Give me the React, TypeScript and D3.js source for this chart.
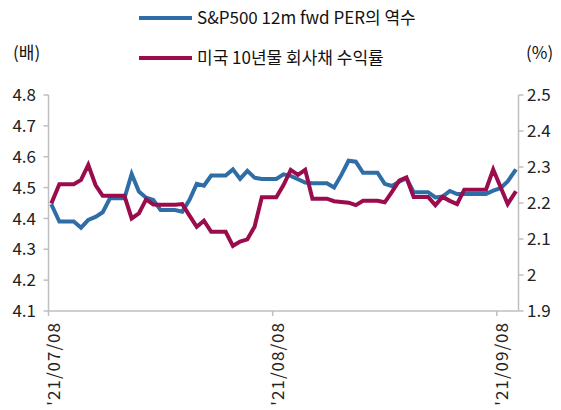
import React from 'react'
import * as d3 from 'd3'

const W = 561
const H = 410

// daily series, weekends carry Friday's value
const START = new Date(2021, 6, 8)
const END = new Date(2021, 8, 11)
const days = d3.timeDay.range(START, END)

const perInverse = [
  4.44, 4.39, 4.39, 4.39, 4.37, 4.395, 4.405, 4.42, 4.465, 4.465, 4.465,
  4.544, 4.487, 4.467, 4.46, 4.427, 4.427, 4.427, 4.422, 4.46, 4.512, 4.506,
  4.539, 4.539, 4.539, 4.559, 4.528, 4.554, 4.532, 4.528, 4.528, 4.528,
  4.543, 4.538, 4.527, 4.516, 4.514, 4.514, 4.514, 4.5, 4.541, 4.587, 4.584,
  4.548, 4.548, 4.548, 4.512, 4.505, 4.519, 4.53, 4.485, 4.485, 4.485,
  4.468, 4.471, 4.489, 4.479, 4.479, 4.479, 4.479, 4.479, 4.49, 4.498, 4.52, 4.554,
]

const corpYield = [
  2.204, 2.252, 2.252, 2.252, 2.264, 2.306, 2.25, 2.22, 2.22, 2.22, 2.22,
  2.157, 2.171, 2.21, 2.196, 2.195, 2.195, 2.195, 2.197, 2.165, 2.134, 2.151,
  2.12, 2.12, 2.12, 2.081, 2.093, 2.099, 2.134, 2.216, 2.216, 2.216,
  2.25, 2.292, 2.278, 2.292, 2.212, 2.212, 2.212, 2.205, 2.203, 2.201, 2.194,
  2.206, 2.206, 2.206, 2.202, 2.231, 2.262, 2.271, 2.217, 2.217, 2.217,
  2.194, 2.217, 2.206, 2.197, 2.237, 2.237, 2.237, 2.237, 2.293, 2.245, 2.197, 2.228,
]

const leftTicks = [4.1, 4.2, 4.3, 4.4, 4.5, 4.6, 4.7, 4.8]
const rightTicks = [1.9, 2, 2.1, 2.2, 2.3, 2.4, 2.5]
const xTicks = [new Date(2021, 6, 8), new Date(2021, 7, 8), new Date(2021, 8, 8)]
const xTickLabels = ["'21/07/08", "'21/08/08", "'21/09/08"]
const legendLabels = ['S&P500 12m fwd PER의 역수', '미국 10년물 회사채 수익률']
const colors = ['#2f6da6', '#9a0c4c']

const FONT = '"Noto Sans CJK KR", "Noto Sans", sans-serif'
const AXIS = '#bfbfbf'

export default function App() {
  const left = 48.5
  const right = 518.5
  const top = 95
  const bottom = 311

  const x = d3.scaleTime().domain([START, END]).range([left, right])
  const yL = d3.scaleLinear().domain([4.1, 4.8]).range([bottom, top])
  const yR = d3.scaleLinear().domain([1.9, 2.5]).range([bottom, top])
  const mid = (d: Date) => x(d3.timeHour.offset(d, 12))

  const blueLine = d3.line<number>()
    .x((_, i) => mid(days[i]))
    .y(d => yL(d))
  const redLine = d3.line<number>()
    .x((_, i) => mid(days[i]))
    .y(d => yR(d))

  return (
    <svg width={W} height={H} style={{ position: 'absolute', left: 0, top: 0, background: '#fff' }}
      fontFamily={FONT}>
      {/* legend */}
      {legendLabels.map((t, i) => (
        <g key={t} transform={`translate(139, ${18 + i * 40})`}>
          <line x1={0} x2={53} y1={0} y2={0} stroke={colors[i]} strokeWidth={4} />
          <text x={58} y={0} dy="0.36em" fontSize={17} fill="#111">{t}</text>
        </g>
      ))}
      <text x={13} y={53} dy="0.36em" fontSize={17} fill="#111">(배)</text>
      <text x={526} y={53} dy="0.36em" fontSize={17} fill="#111">(%)</text>

      {/* axes */}
      <line x1={left} x2={left} y1={top} y2={bottom} stroke={AXIS} strokeWidth={1.5} />
      <line x1={right} x2={right} y1={top} y2={bottom} stroke={AXIS} strokeWidth={1.5} />
      <line x1={left} x2={right} y1={bottom} y2={bottom} stroke={AXIS} strokeWidth={1.5} />

      {leftTicks.map(v => (
        <g key={'l' + v}>
          <line x1={left - 5} x2={left} y1={yL(v)} y2={yL(v)} stroke={AXIS} strokeWidth={1.5} />
          <text x={36} y={yL(v)} dy="0.36em" textAnchor="end" fontSize={17} fill="#222">{String(v)}</text>
        </g>
      ))}
      {rightTicks.map(v => (
        <g key={'r' + v}>
          <line x1={right} x2={right + 5} y1={yR(v)} y2={yR(v)} stroke={AXIS} strokeWidth={1.5} />
          <text x={527} y={yR(v)} dy="0.36em" fontSize={17} fill="#222">{String(v)}</text>
        </g>
      ))}
      {xTicks.map((d, i) => (
        <g key={'x' + i}>
          <line x1={x(d)} x2={x(d)} y1={bottom} y2={bottom + 5} stroke={AXIS} strokeWidth={1.5} />
          <text transform={`translate(${x(d) + 5}, ${bottom + 11}) rotate(-90)`} dy="0.36em"
            textAnchor="end" fontSize={17} fill="#222" letterSpacing={1}>{xTickLabels[i]}</text>
        </g>
      ))}

      {/* series */}
      <path d={blueLine(perInverse) ?? ''} fill="none" stroke={colors[0]} strokeWidth={4}
        strokeLinecap="square" />
      <path d={redLine(corpYield) ?? ''} fill="none" stroke={colors[1]} strokeWidth={4}
        strokeLinecap="square" />
    </svg>
  )
}
